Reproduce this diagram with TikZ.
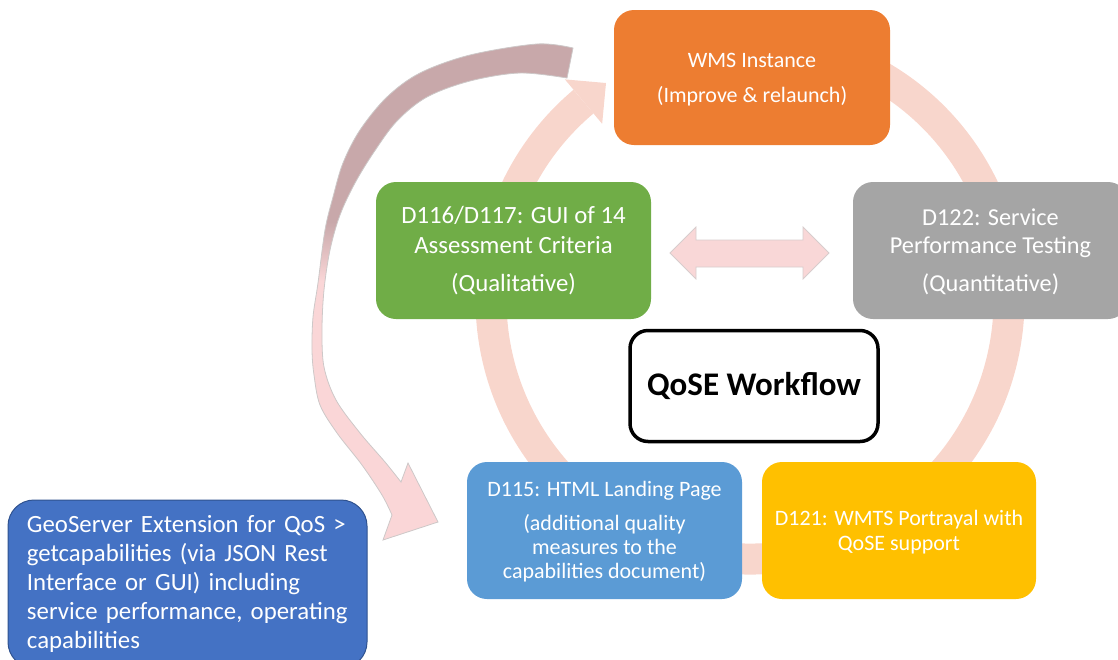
\documentclass[tikz,border=0pt]{standalone}
\usepackage{fontspec}
\setmainfont{Carlito}
\usetikzlibrary{calc}
\definecolor{cOrange}{RGB}{237,125,49}
\definecolor{cGreen}{RGB}{112,173,71}
\definecolor{cGray}{RGB}{165,165,165}
\definecolor{cBlue}{RGB}{91,155,213}
\definecolor{cYellow}{RGB}{255,192,0}
\definecolor{cDark}{RGB}{68,114,196}
\definecolor{cDarkEdge}{RGB}{47,82,143}
\definecolor{cRing}{RGB}{248,214,204}
\definecolor{cDbl}{RGB}{249,215,215}
\definecolor{cDblEdge}{RGB}{215,205,205}
\definecolor{cArrTop}{RGB}{200,168,170}
\definecolor{cArrBot}{RGB}{250,214,215}
\definecolor{cArrEdge}{RGB}{205,200,200}
\pgfdeclareverticalshading{bigarrow}{100bp}{color(0bp)=(cArrBot); color(51bp)=(cArrBot); color(57bp)=(cArrTop); color(100bp)=(cArrTop)}
\begin{document}
\begin{tikzpicture}[x=1pt,y=-1pt,
  box/.style={rounded corners=20pt, inner sep=0pt},
  txt/.style={inner sep=0pt, text=white, align=center},
  ring/.style={draw=cRing, line width=31pt},
  ]
\useasboundingbox (0,0) rectangle (1118,659);
\clip (0,0) rectangle (1118,659);

% cycle ring
\coordinate (c) at (750,300);
\draw[ring] ($(c)+(-118:259)$) arc[start angle=-118, end angle=185, radius=259];
\draw[ring] ($(c)+(-160:259)$) arc[start angle=-160, end angle=-130, radius=259];
\fill[cRing] ($(c)+(-130:288)$) -- (606,83) -- ($(c)+(-130:230)$) -- cycle;

% double arrow
\draw[fill=cDbl, draw=cDblEdge, line width=0.8pt]
  (670,253) -- (696,227) -- (696,240) -- (803,240) -- (803,227) -- (829,253)
  -- (803,279) -- (803,267) -- (696,267) -- (696,279) -- cycle;

% big curved arrow
\shade[shading=bigarrow, draw=cArrEdge, line width=0.8pt]
  plot[smooth, tension=0.55] coordinates {(573,48) (537,44) (470,55) (420,73) (387,97) (360,130) (343,163) (333,197) (325,230) (318,283) (313,317) (312,350) (314,375) (320,405) (337,433) (362,465) (382,495) (392,515)}
  -- (383,540) -- (438,522) -- (408,463) -- (401,482)
  -- plot[smooth, tension=0.55] coordinates {(401,482) (385,462) (360,433) (336,400) (324,367) (322,330) (324,290) (330,250) (340,215) (355,183) (374,152) (397,121) (427,97) (470,81) (520,73) (567,78)}
  -- cycle;

% boxes
\node[box, fill=cOrange, minimum width=276pt, minimum height=135pt] (wms) at (752,77.5) {};
\node[txt, font=\fontsize{22}{35}\selectfont] (wmsT) at (752,79.5)
      {WMS Instance\\(Improve \& relaunch)};
\node[box, fill=cGreen, minimum width=275pt, minimum height=137pt] (gui) at (513.5,250.5) {};
\node[txt, font=\fontsize{24.8}{30}\selectfont] (guiT) at (513.5,250.5)
      {D116/D117: GUI of 14\\Assessment Criteria\\[8pt](Qualitative)};
\node[box, fill=cGray, minimum width=275pt, minimum height=137pt] (perf) at (990.5,250.5) {};
\node[txt, font=\fontsize{24.3}{28}\selectfont] (perfT) at (990.5,251.5)
      {D122: Service\\Performance Testing\\[10pt](Quantitative)};
\node[draw=black, line width=3.5pt, fill=white, rounded corners=18pt,
      minimum width=248pt, minimum height=111pt, inner sep=0pt,
      font=\fontsize{33}{38}\selectfont\bfseries] (qose) at (754,386)
      {QoSE Workflow};
\node[box, fill=cBlue, minimum width=275pt, minimum height=137pt] (html) at (604.5,530.5) {};
\node[txt, font=\fontsize{22}{24}\selectfont] (htmlT) at (604.5,532)
      {D115: HTML Landing Page\\[10pt](additional quality\\measures to the\\capabilities document)};
\node[box, fill=cYellow, minimum width=274pt, minimum height=137pt] (wmts) at (899,530.5) {};
\node[txt, font=\fontsize{22}{25}\selectfont] (wmtsT) at (899,532.5)
      {D121: WMTS Portrayal with\\QoSE support};
\node[box, fill=cDark, draw=cDarkEdge, line width=1pt, rounded corners=26pt,
      minimum width=359pt, minimum height=168pt] (geo) at (187.5,584) {};
\node[txt, align=left, text width=321pt, font=\fontsize{24.8}{29}\selectfont]
      (geoT) at (187.5,584)
      {GeoServer Extension for QoS >\\getcapabilities (via JSON Rest\\Interface or GUI) including\\service performance, operating\\capabilities};
\end{tikzpicture}
\end{document}
